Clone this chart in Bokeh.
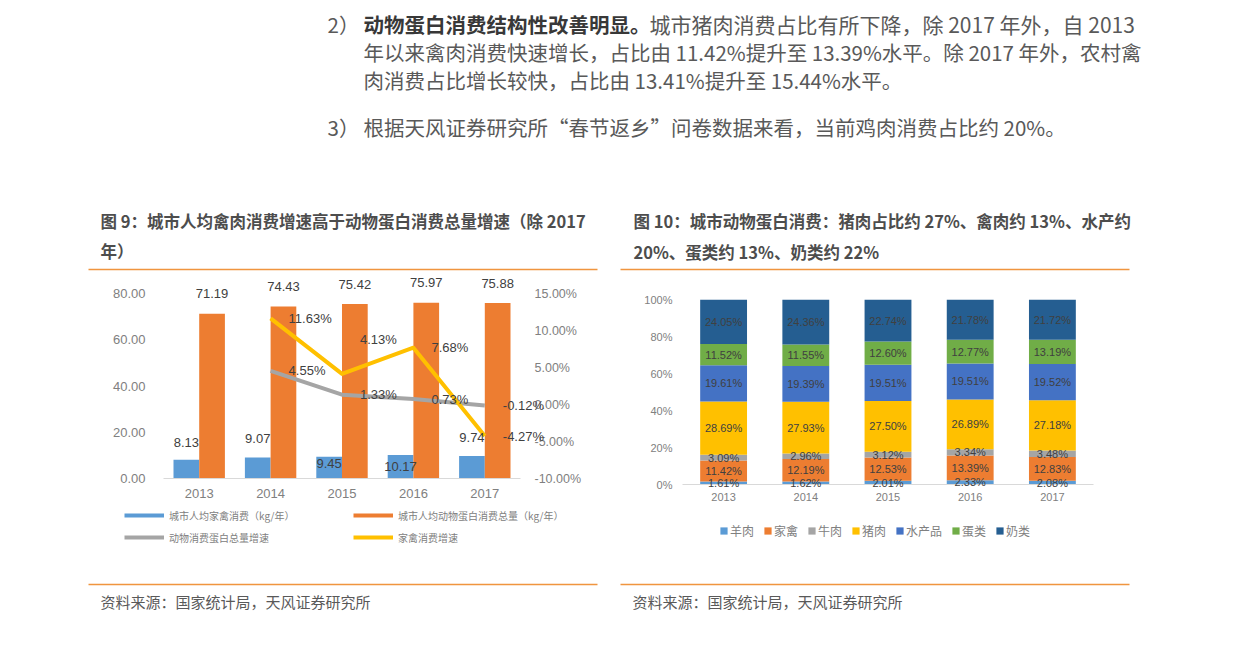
from bokeh.plotting import figure
from bokeh.models import (Range1d, LinearAxis, FixedTicker, PrintfTickFormatter,
                          ColumnDataSource, Legend, LegendItem, FactorRange, Spacer)
from bokeh.layouts import column, row
from bokeh.transform import dodge
from bokeh.core.properties import value
from bokeh.embed import file_html
from bokeh.resources import INLINE

# ---------------- data ----------------
years = ["2013", "2014", "2015", "2016", "2017"]
poultry_kg = [8.13, 9.07, 9.45, 10.17, 9.74]          # 城市人均家禽消费（kg/年）
protein_kg = [71.19, 74.43, 75.42, 75.97, 75.88]      # 城市人均动物蛋白消费总量（kg/年）
growth_years = ["2014", "2015", "2016", "2017"]
protein_growth = [4.55, 1.33, 0.73, -0.12]            # 动物消费蛋白总量增速 (%)
poultry_growth = [11.63, 4.13, 7.68, -4.27]           # 家禽消费增速 (%)
left_ticks = [0, 20, 40, 60, 80]
right_ticks = [-10, -5, 0, 5, 10, 15]
legend1_labels = ["城市人均家禽消费（kg/年）", "城市人均动物蛋白消费总量（kg/年）",
                  "动物消费蛋白总量增速", "家禽消费增速"]

share_names = ["羊肉", "家禽", "牛肉", "猪肉", "水产品", "蛋类", "奶类"]
mutton = [1.61, 1.62, 2.01, 2.33, 2.08]
poultry = [11.42, 12.19, 12.53, 13.39, 12.83]
beef = [3.09, 2.96, 3.12, 3.34, 3.48]
pork = [28.69, 27.93, 27.50, 26.89, 27.18]
aquatic = [19.61, 19.39, 19.51, 19.51, 19.52]
eggs = [11.52, 11.55, 12.60, 12.77, 13.19]
dairy = [24.05, 24.36, 22.74, 21.78, 21.72]
share_ticks = [0, 20, 40, 60, 80, 100]

# ---------------- styles ----------------
CJK = "Noto Sans CJK SC"
NUM = "Liberation Sans"
BLUE, ORANGE, GRAY, YELLOW = "#5B9BD5", "#ED7D31", "#A5A5A5", "#FFC000"
BLUE2, GREEN, NAVY = "#4472C4", "#70AD47", "#255E91"
RULE = "#F0953F"
AXIS_TXT = "#808080"
LBL_TXT = "#404040"
BODY = "#595959"
CAP = "#4d4d4d"
PAGE_W = 1234
NAN = float("nan")


def page_fig(w, h, x0, y0):
    f = figure(width=w, height=h, x_range=Range1d(x0, x0 + w), y_range=Range1d(y0 + h, y0),
               toolbar_location=None, output_backend="svg", min_border=0,
               x_axis_location=None, y_axis_location=None)
    f.grid.visible = False
    f.outline_line_color = None
    return f


def txt(f, x, y, s, size, color, bold=False):
    f.text(x=[x], y=[y], text=[s], text_font=value(CJK), text_font_size=size,
           text_color=color, text_baseline="middle", text_align="left",
           text_font_style="bold" if bold else "normal")


def style_axis(a, size, standoff):
    a.major_tick_line_color = None
    a.minor_tick_line_color = None
    a.major_tick_out = 0
    a.major_tick_in = 0
    a.minor_tick_out = 0
    a.major_label_standoff = standoff
    a.major_label_text_font = NUM
    a.major_label_text_font_size = size
    a.major_label_text_color = AXIS_TXT


legend_kw = dict(padding=0, margin=0, border_line_color=None, background_fill_alpha=0,
                 label_text_font=CJK, label_text_color=AXIS_TXT)

# ---------------- top text block ----------------
top = page_fig(PAGE_W, 272, 0, 0)
txt(top, 327, 23, "2）", "20.5px", BODY)
txt(top, 363, 23, "动物蛋白消费结构性改善明显。", "20.5px", "#383838", bold=True)
txt(top, 649, 23, "城市猪肉消费占比有所下降，除 2017 年外，自 2013", "21px", BODY)
txt(top, 363, 51, "年以来禽肉消费快速增长，占比由 11.42%提升至 13.39%水平。除 2017 年外，农村禽", "20.5px", BODY)
txt(top, 363, 79, "肉消费占比增长较快，占比由 13.41%提升至 15.44%水平。", "20.5px", BODY)
txt(top, 327, 126, "3）", "20.5px", BODY)
txt(top, 363, 126, "根据天风证券研究所“春节返乡”问卷数据来看，当前鸡肉消费占比约 20%。", "20.5px", BODY)

txt(top, 100, 220, "图 9：城市人均禽肉消费增速高于动物蛋白消费总量增速（除 2017", "16.5px", CAP, bold=True)
txt(top, 100, 250, "年）", "16.5px", CAP, bold=True)
txt(top, 633, 220, "图 10：城市动物蛋白消费：猪肉占比约 27%、禽肉约 13%、水产约", "16.5px", CAP, bold=True)
txt(top, 633, 251, "20%、蛋类约 13%、奶类约 22%", "16.5px", CAP, bold=True)
top.segment(x0=[88, 620], y0=[269, 269], x1=[597, 1129], y1=[269, 269],
            line_color=RULE, line_width=1.5)

# ---------------- chart 1 ----------------
FRAME1_H = 185          # px between 0 and 80
EXTRA_TOP = 21          # px of head-room above 80 for the value labels
y_top = 80 * (FRAME1_H + EXTRA_TOP) / FRAME1_H
pct_top = -10 + 25 * y_top / 80

p1 = figure(width=510, height=237, x_range=FactorRange(factors=years, range_padding=0),
            y_range=Range1d(0, y_top), toolbar_location=None, output_backend="svg",
            min_border_left=75, min_border_right=78, min_border_top=0, min_border_bottom=31)
p1.extra_y_ranges = {"pct": Range1d(-10, pct_top)}
p1.grid.visible = False
p1.outline_line_color = None

src1 = ColumnDataSource(dict(
    year=years, poultry=poultry_kg, protein=protein_kg,
    poultry_lbl=[f"{v:.2f}" for v in poultry_kg],
    protein_lbl=[f"{v:.2f}" for v in protein_kg],
    poultry_off=[-17, -19, 7, 12, -18],
))
p1.vbar(x=dodge("year", -0.18, range=p1.x_range), top="poultry", width=0.36,
        source=src1, fill_color=BLUE, line_color=None)
p1.vbar(x=dodge("year", 0.18, range=p1.x_range), top="protein", width=0.36,
        source=src1, fill_color=ORANGE, line_color=None)

src2 = ColumnDataSource(dict(
    year=growth_years, pg=protein_growth, po=poultry_growth,
    pg_lbl=[f"{v:.2f}%" for v in protein_growth],
    po_lbl=[f"{v:.2f}%" for v in poultry_growth],
    po_off=[0, -34, 0, 0],
))
p1.line(x="year", y="pg", source=src2, y_range_name="pct", line_color=GRAY,
        line_width=4, line_join="round")
p1.line(x="year", y="po", source=src2, y_range_name="pct", line_color=YELLOW,
        line_width=4, line_join="round")

lbl_kw = dict(text_font=value(NUM), text_font_size="13px", text_color=LBL_TXT,
              text_baseline="middle", level="overlay")
p1.text(x=dodge("year", -0.18, range=p1.x_range), y="poultry", text="poultry_lbl",
        y_offset="poultry_off", text_align="center", source=src1, **lbl_kw)
p1.text(x=dodge("year", 0.18, range=p1.x_range), y="protein", text="protein_lbl",
        y_offset=-20, text_align="center", source=src1, **lbl_kw)
p1.text(x="year", y="pg", text="pg_lbl", y_range_name="pct", x_offset=18,
        text_align="left", source=src2, **lbl_kw)
p1.text(x="year", y="po", text="po_lbl", y_range_name="pct", x_offset=18,
        y_offset="po_off", text_align="left", source=src2, **lbl_kw)

ax = p1.yaxis[0]
ax.ticker = FixedTicker(ticks=left_ticks)
ax.formatter = PrintfTickFormatter(format="%.2f")
ax.axis_line_color = None
style_axis(ax, "13px", 18)
rax = LinearAxis(y_range_name="pct", ticker=FixedTicker(ticks=right_ticks),
                 formatter=PrintfTickFormatter(format="%.2f%%"))
rax.axis_line_color = None
style_axis(rax, "12.5px", 14)
p1.add_layout(rax, "right")
xa = p1.xaxis[0]
xa.axis_line_color = "#d9d9d9"
style_axis(xa, "13px", 10)

# ---------------- chart 2 ----------------
series = [mutton, poultry, beef, pork, aquatic, eggs, dairy]
colors = [BLUE, ORANGE, GRAY, YELLOW, BLUE2, GREEN, NAVY]
fields = ["s%d" % i for i in range(len(series))]
data3 = dict(year=years)
for f, s in zip(fields, series):
    data3[f] = s
src3 = ColumnDataSource(data3)

p2 = figure(width=510, height=237, x_range=FactorRange(factors=years, range_padding=0),
            y_range=Range1d(0, 100), toolbar_location=None, output_backend="svg",
            min_border_left=62, min_border_right=37, min_border_top=27, min_border_bottom=25)
p2.grid.visible = False
p2.outline_line_color = None
p2.vbar_stack(fields, x="year", width=0.57, source=src3, fill_color=colors, line_color=None)

lx, ly, lt = [], [], []
for i, yr in enumerate(years):
    cum = 0.0
    for s in series:
        v = s[i]
        lx.append(yr)
        ly.append(cum + v / 2)
        lt.append(f"{v:.2f}%")
        cum += v
src4 = ColumnDataSource(dict(x=lx, y=ly, t=lt))
p2.text(x="x", y="y", text="t", source=src4, text_align="center", text_baseline="middle",
        text_font=value(NUM), text_font_size="11px", text_color=LBL_TXT, level="overlay")

ya2 = p2.yaxis[0]
ya2.ticker = FixedTicker(ticks=share_ticks)
ya2.formatter = PrintfTickFormatter(format="%d%%")
ya2.axis_line_color = None
style_axis(ya2, "11px", 10)
xa2 = p2.xaxis[0]
xa2.axis_line_color = "#d9d9d9"
style_axis(xa2, "11px", 8)

# ---------------- bottom block: legends, rules, sources ----------------
bottom = page_fig(PAGE_W, 140, 0, 509)
# legend swatches (no visible marks; they only provide the legend glyph styles)
sw1 = [bottom.line(x=[NAN], y=[NAN], line_color=c, line_width=4)
       for c in (BLUE, ORANGE, GRAY, YELLOW)]
bottom.add_layout(Legend(
    items=[LegendItem(label=l, renderers=[r]) for l, r in zip(legend1_labels, sw1)],
    orientation="horizontal", ncols=2, location=(124, 103),
    glyph_width=40, glyph_height=18, label_height=18, label_width=180,
    label_standoff=5, spacing=4, label_text_font_size="10px", **legend_kw))
sw2 = [bottom.vbar(x=[NAN], top=[NAN], bottom=[NAN], width=1, fill_color=c, line_color=None)
       for c in colors]
bottom.add_layout(Legend(
    items=[LegendItem(label=n, renderers=[r]) for n, r in zip(share_names, sw2)],
    orientation="horizontal", location=(719, 110),
    glyph_width=9, glyph_height=9, label_height=14, label_standoff=2,
    spacing=9, label_text_font_size="12px", **legend_kw))

bottom.segment(x0=[88, 620], y0=[584, 584], x1=[597, 1129], y1=[584, 584],
               line_color=RULE, line_width=1.5)
txt(bottom, 100, 601, "资料来源：国家统计局，天风证券研究所", "15px", BODY)
txt(bottom, 632, 601, "资料来源：国家统计局，天风证券研究所", "15px", BODY)

# each chart sits in its own column so that the row does not align their frames
layout = column(
    top,
    row(Spacer(width=88, height=237), column(p1), Spacer(width=22, height=237), column(p2),
        Spacer(width=104, height=237)),
    bottom,
)

open("out.html", "w").write(file_html(layout, INLINE))
